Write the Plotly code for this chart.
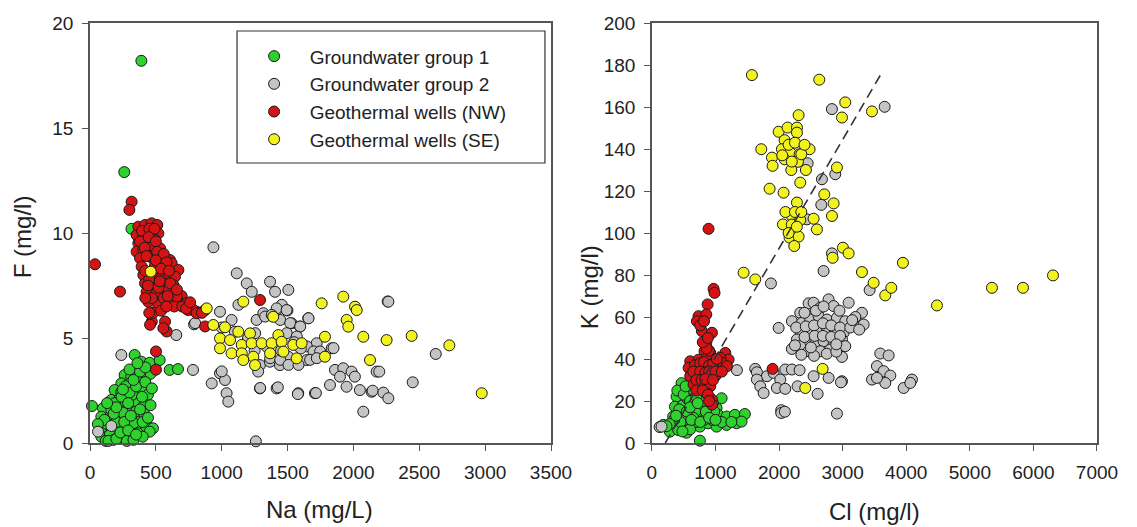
import plotly.graph_objects as go

# ---------------- Left panel: F vs Na ----------------
na_g1 = [390, 260, 315, 339, 390, 453, 529, 605, 668, 263, 313, 364, 427, 238, 301, 364, 415,
         187, 238, 288, 352, 402, 162, 225, 276, 327, 377, 415, 15, 99, 162, 225, 288, 352, 402,
         86, 150, 213, 276, 339, 390, 427, 99, 162, 225, 301, 364, 427, 478, 86, 150, 238, 301,
         364, 453, 200, 250, 320, 270, 350, 410, 130, 190, 260, 330, 120, 280, 180, 440, 460, 300,
         140, 200, 330, 400, 260, 180, 310, 380, 240, 300, 350, 420, 330, 200, 130, 110, 60, 230,
         290, 350, 400, 440, 460, 470, 380, 420, 360, 290, 250, 395]
f_g1 = [18.2, 12.9, 10.2, 4.19, 3.87, 3.82, 3.95, 3.48, 3.52, 3.24, 3.16, 3.24, 3.16, 2.84, 2.84, 2.92, 2.76,
        2.52, 2.44, 2.52, 2.37, 2.44, 2.05, 2.13, 2.05, 2.05, 2.13, 2.05, 1.76, 1.65, 1.57, 1.73, 1.65, 1.89, 1.73,
        1.25, 1.17, 1.25, 1.17, 1.33, 1.17, 1.10, 0.78, 0.70, 0.86, 0.78, 0.70, 0.78, 0.70, 0.30, 0.38, 0.30, 0.30,
        0.46, 0.54, 1.00, 1.45, 2.30, 2.70, 1.50, 1.40, 0.90, 1.90, 0.55, 0.95, 0.10, 0.10, 0.15, 2.30, 3.30, 3.50,
        0.10, 0.20, 0.15, 0.30, 1.00, 1.40, 1.30, 1.60, 2.20, 2.40, 2.70, 2.90, 3.00, 1.70, 1.90, 1.10, 0.90, 0.50,
        0.60, 0.40, 1.00, 1.20, 1.80, 2.60, 3.40, 3.60, 3.80, 1.90, 2.55, 2.20]

na_g2 = [238, 61, 162, 782, 655, 790, 937, 1114, 1190, 1228, 1367, 1405, 1506, 1127, 1456, 1499, 1418, 2260,
         987, 1075, 1265, 1316, 1417, 1493, 1531, 1594, 1657, 1721, 1835, 1341, 1505, 1645, 1708, 1290, 1366,
         1442, 1277, 987, 924, 1025, 1037, 1050, 1290, 1417, 1581, 1708, 1822, 1860, 1923, 1986, 2011, 1898,
         1948, 2049, 2138, 2075, 2176, 2265, 2625, 2450, 2196, 2146, 2227, 2265, 1259, 798, 1330, 1380, 1444,
         1520, 1596, 1659, 1254, 1494, 1570, 1646, 1697, 1747, 1849, 1368, 1444, 1507, 1583, 1671, 1722, 1000,
         1292, 1426, 1578, 1715, 1000, 1100, 1200, 1250, 1550, 1600, 1450]
f_g2 = [4.19, 0.54, 0.81, 3.48, 5.14, 5.65, 9.32, 8.08, 7.60, 7.20, 7.68, 7.20, 7.29, 6.58, 6.58, 6.31, 6.34, 6.74,
        6.25, 5.86, 5.86, 6.18, 6.41, 6.33, 5.70, 5.54, 5.94, 4.75, 4.51, 4.59, 4.11, 3.95, 4.19, 3.71, 3.87,
        3.71, 3.40, 3.32, 2.84, 3.00, 2.37, 1.97, 2.60, 2.60, 2.37, 2.37, 2.76, 3.48, 3.56, 3.40, 3.16, 3.16,
        2.68, 2.52, 2.44, 1.49, 3.40, 6.73, 4.24, 2.89, 3.40, 2.49, 2.40, 2.13, 0.08, 5.71, 6.02, 6.10, 5.86,
        5.71, 5.55, 5.94, 5.23, 5.23, 5.07, 4.60, 4.36, 4.36, 4.52, 4.04, 3.96, 3.72, 3.72, 3.96, 4.04, 3.41,
        2.62, 2.65, 2.33, 2.38, 5.50, 5.30, 5.00, 4.40, 4.80, 4.50, 4.40]

na_nw = [38, 228, 316, 299, 367, 418, 468, 511, 354, 405, 456, 519, 367, 430, 494, 354, 405, 468, 532,
         380, 456, 544, 607, 392, 494, 569, 620, 671, 405, 481, 544, 595, 645, 418, 494, 569, 633,
         430, 506, 569, 645, 696, 443, 519, 607, 683, 746, 810, 658, 734, 785, 810, 469, 456, 570, 582,
         557, 874, 873, 1291, 501, 501, 420, 480, 530, 470, 450, 520, 600, 470, 560, 640, 700, 480, 540,
         395, 450, 490, 380, 445, 500, 415, 510, 560, 430, 500, 580, 420, 540, 600, 440, 530, 610, 660,
         420, 590, 730, 760, 450, 580, 850]
f_nw = [8.51, 7.21, 11.49, 11.10, 10.30, 10.38, 10.46, 10.38, 9.90, 9.98, 10.06, 9.98, 9.51, 9.59, 9.67, 9.11, 9.19, 9.27, 9.27,
        8.80, 8.87, 8.80, 8.71, 8.40, 8.48, 8.40, 8.56, 8.24, 8.00, 7.92, 8.08, 7.84, 7.92, 7.60, 7.52, 7.60, 7.52,
        7.20, 7.13, 7.29, 7.05, 7.00, 6.73, 6.57, 6.73, 6.65, 6.33, 6.25, 6.97, 6.66, 6.34, 6.18, 5.78, 5.63, 5.78, 5.31,
        5.47, 5.55, 6.33, 6.81, 4.36, 3.49, 9.80, 9.40, 8.60, 8.10, 7.80, 7.40, 7.30, 6.90, 6.90, 6.50, 6.50, 6.20, 6.30,
        10.1, 10.2, 10.2, 9.6, 9.8, 9.6, 9.3, 9.1, 9.0, 8.9, 8.7, 8.6, 8.2, 8.3, 8.2, 7.5, 7.7, 7.6, 7.3,
        6.9, 7.0, 6.4, 6.7, 6.2, 6.5, 6.2]

na_se = [461, 1164, 886, 936, 1025, 1126, 1215, 1391, 1430, 987, 1063, 1152, 1227, 1303, 1379, 1455, 1543, 1607,
         987, 1075, 1152, 1240, 1367, 1468, 1569, 1784, 1164, 1253, 1759, 1923, 2012, 2025, 1949, 1961, 2075,
         2126, 1784, 2252, 2442, 2728, 2974]
f_se = [8.16, 6.73, 6.41, 5.62, 5.51, 5.30, 5.22, 6.01, 5.14, 4.98, 4.90, 4.67, 4.75, 4.75, 4.75, 4.82, 4.67, 4.75,
        4.51, 4.27, 4.27, 4.11, 4.27, 4.35, 4.03, 4.11, 3.95, 3.71, 6.65, 6.97, 6.49, 6.33, 5.86, 5.54, 5.06,
        3.95, 5.06, 4.90, 5.10, 4.65, 2.37]

# ---------------- Right panel: K vs Cl ----------------
cl_g1 = [467, 571, 703, 649, 806, 912, 388, 362, 492, 624, 755, 885, 1017, 1096, 335, 467, 597, 755, 912, 1042,
         1174, 1305, 1462, 178, 362, 492, 624, 755, 885, 1017, 1174, 1331, 1410, 283, 414, 545, 755,
         520, 680, 820, 950, 560, 430, 700, 600, 800, 980,
         400, 500, 600, 700, 850, 650, 550, 450, 350, 480, 620, 760, 900, 1100, 1250, 1000, 280, 230,
         380, 600, 720, 530, 960]
k_g1 = [28.5, 25.3, 27.7, 22.9, 22.9, 21.3, 22.1, 17.3, 18.1, 18.9, 17.3, 18.1, 16.6, 21.3, 12.6, 13.4, 12.6, 13.4, 14.2, 13.4,
        12.6, 13.4, 13.8, 8.6, 8.6, 7.8, 9.4, 7.8, 9.4, 7.8, 8.6, 9.4, 10.2, 5.4, 6.2, 4.9, 1.1,
        11.0, 15.0, 11.0, 11.0, 21.0, 16.0, 10.0, 6.5, 20.0, 15.0,
        25.0, 23.0, 20.0, 22.0, 15.0, 12.0, 15.0, 10.0, 11.0, 5.5, 11.0, 10.0, 12.0, 10.0, 10.0, 11.0, 9.0, 8.0,
        13.0, 17.0, 19.0, 27.0, 19.0]

cl_g2 = [2831, 3660, 2449, 2884, 2674, 2664, 2438, 2831, 2700, 1872, 3424, 1993,
         2333, 2464, 2543, 2648, 2779, 2858, 3094, 3303,
         2202, 2359, 2490, 2622, 2753, 2910, 3041, 3172, 3330,
         2333, 2490, 2622, 2753, 2884, 3015,
         2281, 2438, 2569, 2700, 2858, 2989,
         2202, 2333, 2464, 2648, 2805, 3041, 2989,
         3592, 3723, 3539, 3644, 3749, 3461, 3670, 3539, 3959, 4090, 4064,
         1337, 1625, 1651, 1809, 1914, 2019, 2097, 2202, 2323, 2543, 2779, 2989,
         1651, 1704, 1757, 1966, 2097, 2291, 2606, 2973,
         2034, 2034, 2910, 121, 152, 2091,
         2400, 2580, 2700, 2950, 3200, 2270, 2420, 2550, 2690, 2820, 2960, 3120, 3260, 2400, 2560,
         2690, 2820, 2960, 2350, 2550, 2750, 2900, 3150, 2500, 2900, 2250]
k_g2 = [159.0, 160.1, 133.2, 128.0, 125.6, 113.4, 106.5, 90.3, 81.9, 76.0, 72.8, 54.8,
        62.0, 66.5, 66.8, 64.4, 68.4, 65.2, 66.8, 62.0,
        58.0, 57.2, 58.8, 60.4, 58.8, 59.6, 58.0, 56.4, 56.4,
        53.3, 52.5, 54.1, 54.8, 52.5, 52.5,
        49.3, 48.5, 47.7, 48.5, 47.7, 49.3,
        44.8, 46.1, 43.7, 43.7, 44.5, 46.1, 41.0,
        42.6, 41.7, 36.6, 34.2, 32.1, 30.2, 28.6, 31.0, 26.2, 30.2, 28.6,
        34.7, 35.3, 33.7, 31.8, 33.4, 30.2, 35.0, 35.0, 34.7, 31.8, 31.0, 29.4,
        30.2, 27.0, 23.8, 26.2, 25.8, 27.0, 23.4, 28.9,
        15.6, 14.3, 14.0, 7.6, 7.8, 14.9,
        62.0, 63.0, 65.0, 63.0, 60.0, 55.0, 55.5, 56.0, 57.0, 56.0, 55.0, 55.0, 54.0, 50.5, 51.0,
        51.0, 50.5, 51.0, 42.0, 41.5, 42.5, 43.5, 58.5, 45.5, 47.0, 46.5]

cl_nw = [891, 970, 985, 876, 734, 708, 855, 786, 944, 855, 828, 918, 1154, 1206, 1075,
         603, 734, 865, 996, 1101, 577, 708, 813, 944, 1049, 1180, 603, 734, 865, 996,
         655, 786, 918, 865, 944, 944, 1898,
         680, 760, 820, 900, 960, 1020, 650, 760, 840, 900, 1000, 1100, 700, 780, 840, 960,
         700, 800, 880, 900, 860, 800, 880, 760, 820, 900]
k_nw = [102.0, 73.4, 71.5, 66.0, 60.4, 58.0, 61.2, 53.3, 52.5, 47.7, 43.7, 42.9, 42.9, 39.7, 40.5,
        38.9, 39.7, 40.5, 38.9, 38.2, 35.8, 36.6, 35.0, 36.6, 35.8, 36.6, 31.8, 31.8, 32.6, 31.8,
        27.8, 28.6, 27.0, 23.8, 20.7, 18.3, 35.3,
        37.0, 38.0, 38.5, 37.0, 37.5, 40.0, 34.0, 34.0, 33.5, 34.0, 34.0, 34.0, 30.0, 30.0, 30.5, 30.0,
        25.0, 25.0, 23.0, 44.0, 45.0, 48.0, 50.0, 56.0, 58.0, 20.0]

cl_se = [1573, 2632, 3041, 2989, 3461, 2307, 1993, 2134, 2281, 2281, 2087, 1720, 2045, 2176, 2323, 2480,
         1888, 2087, 2297, 1898, 2192, 2422, 2910, 2333, 1851, 2071, 2711, 2858, 2832, 2281, 2202, 2333,
         2061, 2543, 2595, 2165, 2307, 2239, 3004, 3094, 2842, 3948, 1442, 1625, 3303, 3487, 3670, 3765,
         4483, 5348, 5836, 6308, 2685, 2412,
         2150, 2250, 2050, 2200, 2350, 2400, 2100, 2250, 2200, 2150, 2350, 2280]
k_se = [175.2, 173.0, 162.2, 155.0, 157.9, 156.1, 148.2, 150.2, 150.2, 147.8, 144.2, 139.9, 139.9, 138.3, 137.5, 139.9,
        135.9, 135.1, 133.9, 132.0, 130.0, 130.0, 131.2, 124.0, 121.1, 119.2, 118.4, 114.1, 108.1, 114.5, 108.1, 106.2,
        104.1, 106.8, 101.7, 97.8, 98.3, 93.8, 93.0, 90.3, 88.2, 85.8, 81.1, 77.9, 81.4, 76.3, 70.3, 73.9,
        65.5, 73.9, 73.9, 79.8, 35.3, 26.2,
        142.0, 143.0, 137.0, 134.0, 137.5, 142.0, 110.0, 110.0, 104.0, 100.0, 110.0, 103.0]

# dashed reference line (K vs Cl)
line_cl = [210, 3590]
line_k = [0, 175]

names = ["Groundwater group 1", "Groundwater group 2", "Geothermal wells (NW)", "Geothermal wells (SE)"]
colors = ["#2fd12f", "#c4c4c4", "#d41414", "#f2f21e"]

left_sets = [(na_g1, f_g1), (na_g2, f_g2), (na_nw, f_nw), (na_se, f_se)]
right_sets = [(cl_g1, k_g1), (cl_g2, k_g2), (cl_nw, k_nw), (cl_se, k_se)]

FONT = "Liberation Sans, Arial, sans-serif"

fig = go.Figure()
for i, (xs, ys) in enumerate(left_sets):
    fig.add_trace(go.Scatter(
        x=xs, y=ys, mode="markers", name="\u00a0\u00a0" + names[i], legendrank=i + 1,
        marker=dict(size=11, color=colors[i], line=dict(color="#1a1a1a", width=1)),
        cliponaxis=False, xaxis="x", yaxis="y"))
for i, (xs, ys) in enumerate(right_sets):
    fig.add_trace(go.Scatter(
        x=xs, y=ys, mode="markers", name=names[i], showlegend=False,
        marker=dict(size=11, color=colors[i], line=dict(color="#1a1a1a", width=1)),
        cliponaxis=False, xaxis="x2", yaxis="y2"))
fig.add_trace(go.Scatter(x=line_cl, y=line_k, mode="lines", showlegend=False,
                         line=dict(color="#333333", width=1.6, dash="10px,6px"),
                         xaxis="x2", yaxis="y2"))

axis_common = dict(showline=True, linecolor="#555555", linewidth=1.5, mirror=True,
                   ticks="outside", ticklen=6, tickcolor="#555555", tickwidth=1.2,
                   showgrid=False, zeroline=False, automargin=False,
                   tickfont=dict(family=FONT, size=19, color="#222222"))

title_font = dict(family=FONT, size=24, color="#222222")

fig.update_layout(
    width=1129, height=519,
    margin=dict(l=82, r=40, t=15, b=84),
    paper_bgcolor="white", plot_bgcolor="white",
    xaxis=dict(domain=[0, 0.4578], range=[0, 3500], dtick=500, anchor="y",
               ticklabelstandoff=5, **axis_common),
    yaxis=dict(domain=[0, 1], range=[0, 20], dtick=5, anchor="x",
               ticklabelstandoff=5, **axis_common),
    xaxis2=dict(domain=[0.558, 1], range=[0, 7000], dtick=1000, anchor="y2",
                ticklabelstandoff=5, **axis_common),
    yaxis2=dict(domain=[0, 1], range=[0, 200], dtick=20, anchor="x2",
                ticklabelstandoff=5, **axis_common),
    legend=dict(x=0.158, y=0.966, xanchor="left", yanchor="top",
                bgcolor="rgba(0,0,0,0)", borderwidth=0,
                font=dict(family=FONT, size=19, color="#222222"),
                itemwidth=40, tracegroupgap=0),
    showlegend=True,
    annotations=[
        dict(text="F (mg/l)", x=-0.0675, y=0.49, xref="paper", yref="paper", textangle=-90,
             showarrow=False, font=title_font, xanchor="center", yanchor="middle"),
        dict(text="Na (mg/L)", x=0.2284, y=-0.1595, xref="paper", yref="paper",
             showarrow=False, font=title_font, xanchor="center", yanchor="middle"),
        dict(text="K (mg/l)", x=0.4955, y=0.371, xref="paper", yref="paper", textangle=-90,
             showarrow=False, font=title_font, xanchor="center", yanchor="middle"),
        dict(text="Cl (mg/l)", x=0.7795, y=-0.164, xref="paper", yref="paper",
             showarrow=False, font=title_font, xanchor="center", yanchor="middle"),
    ],
    shapes=[dict(type="rect", xref="paper", yref="paper", x0=0.146, x1=0.4518, y0=0.6667, y1=0.981,
                 line=dict(color="#333333", width=1.2), fillcolor="rgba(0,0,0,0)", layer="below")],
)

fig.write_html("out.html")
